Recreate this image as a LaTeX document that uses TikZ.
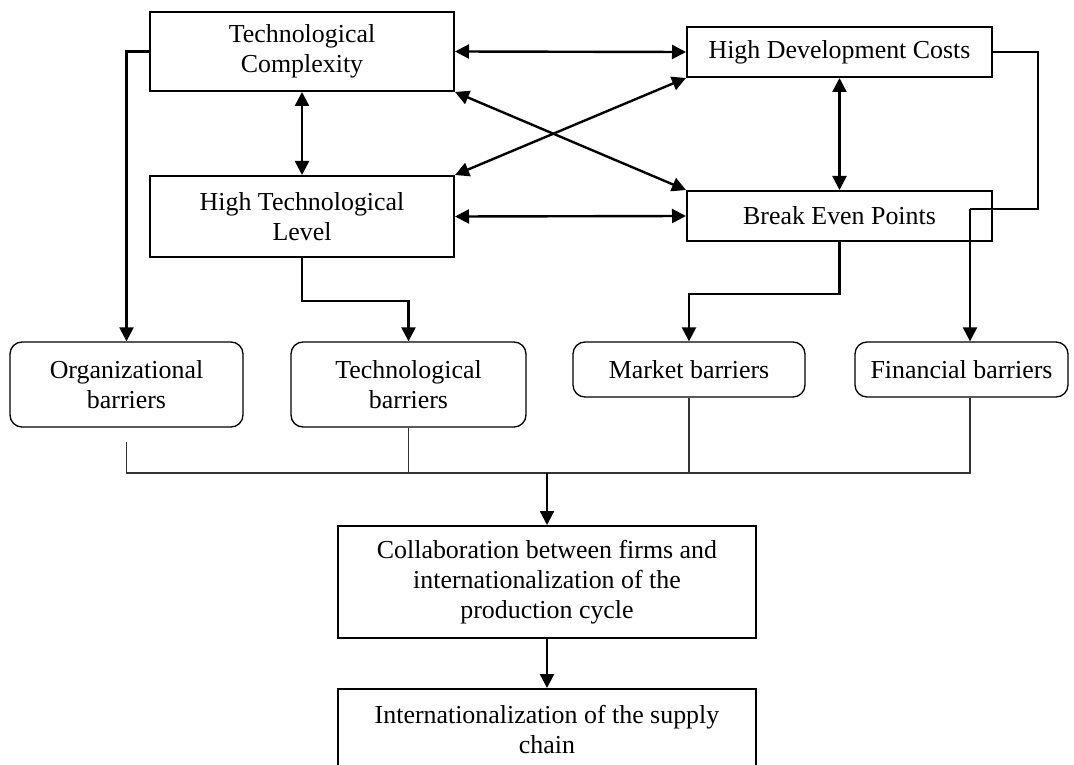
\documentclass[tikz,border=0pt]{standalone}
\usepackage{fontspec}
\setmainfont{Liberation Serif}
\usetikzlibrary{arrows.meta,calc}
\begin{document}
\begin{tikzpicture}[x=1pt,y=-1pt,
  txt/.style={font=\fontsize{25.9}{30}\selectfont, align=center, inner sep=0pt},
  sqbox/.style={txt, draw, line width=2pt, rectangle},
  rbox/.style={txt, draw, line width=1.3pt, rounded corners=12pt, rectangle},
  conn/.style={line width=2.3pt, -{Triangle[length=14pt,width=14pt]}},
  biconn/.style={line width=2.4pt, {Triangle[length=14pt,width=14pt]}-{Triangle[length=14pt,width=14pt]}},
  thin/.style={line width=1.4pt, draw=black!80}
]
\useasboundingbox[fill=white] (0,0) rectangle (1074,765);

\node[sqbox, minimum width=304pt, minimum height=79pt] (tc) at (302,51.5) {Technological\\Complexity};
\node[sqbox, minimum width=304pt, minimum height=81pt] (htl) at (302,216.5) {High Technological\\Level};
\node[sqbox, minimum width=305pt, minimum height=50pt] (hdc) at (839.5,52) {High Development Costs};
\node[sqbox, minimum width=305pt, minimum height=50pt] (bep) at (839.5,216) {Break Even Points};

\node[rbox, minimum width=233pt, minimum height=85pt] (org) at (126.5,384.5) {Organizational\\barriers};
\node[rbox, minimum width=235pt, minimum height=85pt] (tech) at (408.5,384.5) {Technological\\barriers};
\node[rbox, minimum width=232pt, minimum height=55pt] (mkt) at (689,369.5) {Market barriers};
\node[rbox, minimum width=213pt, minimum height=55pt] (fin) at (961.5,369.5) {Financial barriers};

\node[sqbox, minimum width=418pt, minimum height=112pt] (col) at (547,582) {Collaboration between firms and\\internationalization of the\\production cycle};
\node[sqbox, minimum width=418pt, minimum height=82pt] (sup) at (547,730) {Internationalization of the supply\\chain};

% mutual arrows
\draw[biconn] (tc.east) -- (hdc.west);
\draw[biconn] (htl.east) -- (bep.west);
\draw[biconn] (tc.south) -- (htl.north);
\draw[biconn] (hdc.south) -- (bep.north);
\draw[biconn] (tc.south east) -- (bep.north west);
\draw[biconn] (htl.north east) -- (hdc.south west);

% to barriers
\draw[conn] (tc.west) -| (org.north);
\draw[conn] (htl.south) -- ++(0,43) -| (tech.north);
\draw[conn] (bep.south) -- ++(0,52) -| (mkt.north);
\coordinate (fr) at (1038,52);
\coordinate (fb) at (1038,209);
\coordinate (fc) at (970,209);
\draw[line width=2.2pt] (hdc.east) -- (fr) -- (fb) -- (fc);
\draw[conn] (fc) -- (fc |- fin.north);

% collector
\coordinate (ja) at (126.5,473);
\coordinate (jb) at (970,473);
\coordinate (jm) at (547,473);
\draw[thin] ($(org.south)+(0,14)$) -- (ja) -- (jb) -- (jb |- fin.south);
\draw[thin] (tech.south) -- (tech.south |- ja);
\draw[thin] (mkt.south) -- (mkt.south |- ja);
\draw[conn] (jm) -- (col.north);
\draw[conn] (col.south) -- (sup.north);
\end{tikzpicture}
\end{document}
